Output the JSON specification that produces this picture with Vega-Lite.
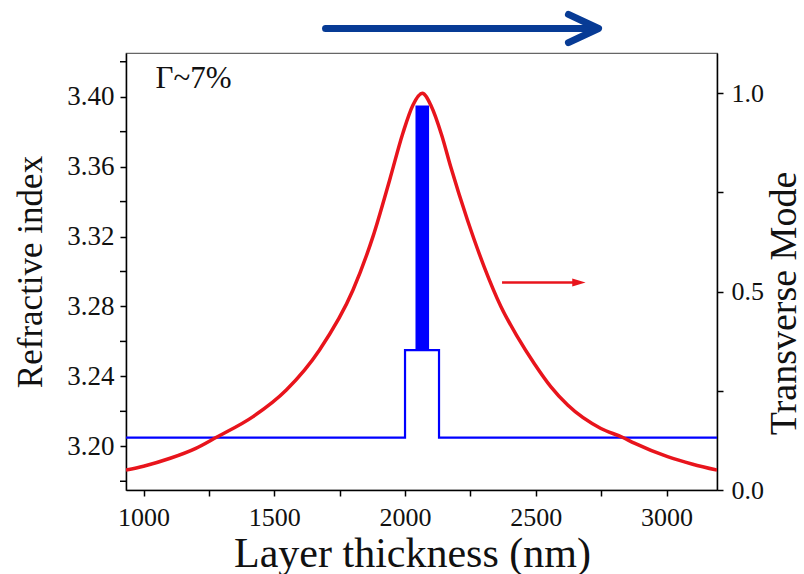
{
  "$schema": "https://vega.github.io/schema/vega-lite/v6.json",
  "autosize": "none",
  "width": 591,
  "height": 437,
  "padding": {"left": 126, "top": 53, "right": 87, "bottom": 84},
  "background": "white",
  "config": {
    "font": "Liberation Serif",
    "view": {"stroke": "#666666", "strokeWidth": 1.2},
    "text": {"font": "Liberation Serif"},
    "axis": {
      "grid": false,
      "domainColor": "#000000",
      "domainWidth": 1.5,
      "tickColor": "#000000",
      "tickWidth": 1.5,
      "tickSize": 6,
      "labelFont": "Liberation Serif",
      "labelFontSize": 26,
      "labelColor": "#111111",
      "labelOverlap": false,
      "titleFont": "Liberation Serif",
      "titleFontWeight": "normal",
      "titleColor": "#111111"
    }
  },
  "datasets": {
    "profile": [
      {"x": 933, "n": 3.205, "o": 1},
      {"x": 2000, "n": 3.205, "o": 2},
      {"x": 2000, "n": 3.255, "o": 3},
      {"x": 2130, "n": 3.255, "o": 4},
      {"x": 2130, "n": 3.205, "o": 5},
      {"x": 3193, "n": 3.205, "o": 6}
    ],
    "minor": [
      {"x": 933, "y": 3.18},
      {"x": 933, "y": 3.22},
      {"x": 933, "y": 3.26},
      {"x": 933, "y": 3.30},
      {"x": 933, "y": 3.34},
      {"x": 933, "y": 3.38},
      {"x": 933, "y": 3.42}
    ],
    "qw": [{"x": 2040, "x2": 2092, "y": 3.255, "y2": 3.395}],
    "toparrow": [
      {"x": 1696, "y": 3.439, "part": "shaft", "o": 1},
      {"x": 2728, "y": 3.439, "part": "shaft", "o": 2},
      {"x": 2625, "y": 3.4471, "part": "head", "o": 1},
      {"x": 2740, "y": 3.439, "part": "head", "o": 2},
      {"x": 2625, "y": 3.4309, "part": "head", "o": 3}
    ],
    "label": [{"x": 1046, "y": 3.410, "t": "Γ~7%"}],
    "mode": [
      {"x": 933, "m": 0.050},
      {"x": 1000, "m": 0.060},
      {"x": 1102, "m": 0.080},
      {"x": 1200, "m": 0.105},
      {"x": 1279, "m": 0.133},
      {"x": 1419, "m": 0.185},
      {"x": 1546, "m": 0.252},
      {"x": 1673, "m": 0.353},
      {"x": 1801, "m": 0.504},
      {"x": 1877, "m": 0.638},
      {"x": 1941, "m": 0.781},
      {"x": 1992, "m": 0.900},
      {"x": 2030, "m": 0.970},
      {"x": 2066, "m": 1.000},
      {"x": 2100, "m": 0.968},
      {"x": 2140, "m": 0.895},
      {"x": 2175, "m": 0.814},
      {"x": 2239, "m": 0.680},
      {"x": 2303, "m": 0.562},
      {"x": 2367, "m": 0.462},
      {"x": 2430, "m": 0.386},
      {"x": 2494, "m": 0.319},
      {"x": 2558, "m": 0.260},
      {"x": 2622, "m": 0.214},
      {"x": 2749, "m": 0.155},
      {"x": 2831, "m": 0.133},
      {"x": 2877, "m": 0.118},
      {"x": 3004, "m": 0.084},
      {"x": 3100, "m": 0.065},
      {"x": 3193, "m": 0.050}
    ],
    "redarrow": [{"x": 2371, "x2": 2645, "y": 0.523}],
    "redhead": [{"x": 2665, "y": 0.523}]
  },
  "layer": [
    {
      "layer": [
        {
          "data": {"name": "profile"},
          "mark": {"type": "line", "color": "#0000ff", "strokeWidth": 2.2, "clip": true},
          "encoding": {
            "x": {
              "field": "x", "type": "quantitative",
              "scale": {"domain": [933, 3193], "nice": false, "zero": false},
              "axis": {
                "title": "Layer thickness (nm)",
                "titleFontSize": 42,
                "titlePadding": 3,
                "titleX": 286,
                "labelOverlap": false,
                "values": [1000, 1250, 1500, 1750, 2000, 2250, 2500, 2750, 3000],
                "labelExpr": "datum.value % 500 == 0 ? datum.label : ''",
                "format": "d",
                "labelPadding": 8
              }
            },
            "y": {
              "field": "n", "type": "quantitative",
              "scale": {"domain": [3.175, 3.425], "nice": false, "zero": false},
              "axis": {
                "title": "Refractive index",
                "titleFontSize": 35,
                "titlePadding": 18,
                "labelOverlap": false,
                "values": [3.2, 3.24, 3.28, 3.32, 3.36, 3.4],
                "format": ".2f",
                "labelFontSize": 27,
                "labelPadding": 6
              }
            },
            "order": {"field": "o", "type": "quantitative"}
          }
        },
        {
          "data": {"name": "minor"},
          "mark": {"type": "tick", "orient": "horizontal", "color": "#000000", "size": 6, "thickness": 1.5, "xOffset": -3, "clip": false, "opacity": 1},
          "encoding": {
            "x": {"field": "x", "type": "quantitative"},
            "y": {"field": "y", "type": "quantitative"}
          }
        },
        {
          "data": {"name": "qw"},
          "mark": {"type": "rect", "color": "#0000ff"},
          "encoding": {
            "x": {"field": "x", "type": "quantitative"},
            "x2": {"field": "x2"},
            "y": {"field": "y", "type": "quantitative"},
            "y2": {"field": "y2"}
          }
        },
        {
          "data": {"name": "toparrow"},
          "mark": {"type": "line", "color": "#073b95", "strokeWidth": 7, "strokeCap": "round", "strokeJoin": "round", "clip": false},
          "encoding": {
            "x": {"field": "x", "type": "quantitative"},
            "y": {"field": "y", "type": "quantitative"},
            "detail": {"field": "part"},
            "order": {"field": "o", "type": "quantitative"}
          }
        },
        {
          "data": {"name": "label"},
          "mark": {"type": "text", "align": "left", "baseline": "middle", "fontSize": 31, "font": "Liberation Serif", "color": "#111111"},
          "encoding": {
            "x": {"field": "x", "type": "quantitative"},
            "y": {"field": "y", "type": "quantitative"},
            "text": {"field": "t"}
          }
        }
      ]
    },
    {
      "layer": [
        {
          "data": {"name": "mode"},
          "mark": {"type": "line", "color": "#e8141c", "strokeWidth": 3.5, "interpolate": "monotone", "clip": true},
          "encoding": {
            "x": {"field": "x", "type": "quantitative"},
            "y": {
              "field": "m", "type": "quantitative",
              "scale": {"domain": [0, 1.1015], "nice": false},
              "axis": {
                "orient": "right",
                "title": "Transverse Mode",
                "titleFontSize": 38,
                "titleAngle": 270,
                "titleBaseline": "alphabetic",
                "titleAlign": "center",
                "titleX": 78,
                "titleY": 250,
                "labelOverlap": false,
                "values": [0, 0.25, 0.5, 0.75, 1.0],
                "format": ".1f",
                "labelExpr": "round(datum.value * 100) % 50 == 0 ? datum.label : ''",
                "labelPadding": 8
              }
            }
          }
        },
        {
          "data": {"name": "redarrow"},
          "mark": {"type": "rule", "color": "#e8141c", "strokeWidth": 2.5},
          "encoding": {
            "x": {"field": "x", "type": "quantitative"},
            "x2": {"field": "x2"},
            "y": {"field": "y", "type": "quantitative"}
          }
        },
        {
          "data": {"name": "redhead"},
          "mark": {"type": "point", "shape": "M-1,-0.6L1,0L-1,0.6Z", "filled": true, "color": "#e8141c", "size": 177, "opacity": 1},
          "encoding": {
            "x": {"field": "x", "type": "quantitative"},
            "y": {"field": "y", "type": "quantitative"}
          }
        }
      ]
    }
  ],
  "resolve": {"scale": {"y": "independent"}}
}
